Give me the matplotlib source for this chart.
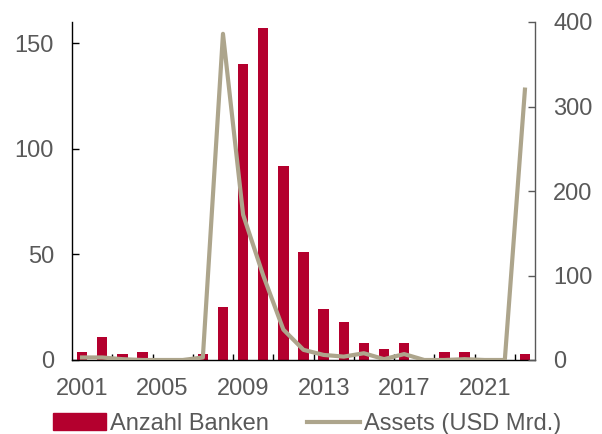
import matplotlib
matplotlib.use("Agg")
import matplotlib.pyplot as plt
import numpy as np
from matplotlib.patches import Patch
from matplotlib.lines import Line2D

plt.rcParams['font.family'] = ['Liberation Sans', 'DejaVu Sans']

years = list(range(2001, 2024))
banks = [4, 11, 3, 4, 0, 0, 3, 25, 140, 157, 92, 51, 24, 18, 8, 5, 8, 0, 4, 4, 0, 0, 3]
assets = [3, 3, 1, 0, 0, 0, 3, 386, 172, 100, 36, 12, 6, 4, 8, 1, 7, 0, 0, 1, 0, 0, 320]
tick_labels = ["2001", "2005", "2009", "2013", "2017", "2021"]

bar_color = "#B4002E"
line_color = "#ADA58C"
text_color = "#595959"
fs = 17

fig = plt.figure(figsize=(6.02, 4.34), dpi=100)
ax = fig.add_axes([72 / 602, 1 - 360 / 434, (535 - 72) / 602, (360 - 22) / 434])
ax2 = ax.twinx()

x = np.arange(len(years))
ax.bar(x, banks, width=0.52, color=bar_color, zorder=2)
ax2.plot(x, assets, color=line_color, lw=3, solid_joinstyle="round", zorder=3)

ax.set_xlim(-0.5, len(years) - 0.5)
ax.set_ylim(0, 160)
ax2.set_ylim(0, 400)

ax.set_yticks([0, 50, 100, 150])
ax2.set_yticks([0, 100, 200, 300, 400])

label_pos = [years.index(int(t)) for t in tick_labels]
ax.set_xticks(label_pos)
ax.set_xticklabels(tick_labels)
ax.set_xticks(np.arange(1.5, len(years) - 1, 2), minor=True)

ax.tick_params(axis="x", which="major", length=0, pad=13, labelsize=fs, labelcolor=text_color)
ax.tick_params(axis="x", which="minor", direction="in", length=4, width=1, color="black")
ax.tick_params(axis="y", direction="in", length=5, width=1, color="black", pad=13,
               labelsize=fs, labelcolor=text_color)
ax2.tick_params(axis="y", direction="in", length=5, width=1, color=text_color, pad=13,
                labelsize=fs, labelcolor=text_color)

for a in (ax, ax2):
    a.spines["top"].set_visible(False)
ax.spines["right"].set_visible(False)
ax2.spines["left"].set_visible(False)
ax2.spines["bottom"].set_visible(False)
ax.spines["left"].set_color("black")
ax.spines["bottom"].set_color("black")
ax2.spines["right"].set_color(text_color)
for s in ("left", "bottom"):
    ax.spines[s].set_linewidth(1)
ax2.spines["right"].set_linewidth(1)

handles = [Patch(color=bar_color, label="Anzahl Banken"),
           Line2D([0], [0], color=line_color, lw=3, label="Assets (USD Mrd.)")]
fig.legend(handles=handles, loc="center", bbox_to_anchor=(307 / 602, 1 - 424 / 434),
           ncol=2, frameon=False, fontsize=fs, handlelength=2.25, handleheight=0.7,
           handletextpad=0.17, columnspacing=1.62, labelcolor=text_color, borderpad=0)

fig.savefig("out.png", dpi=100)
